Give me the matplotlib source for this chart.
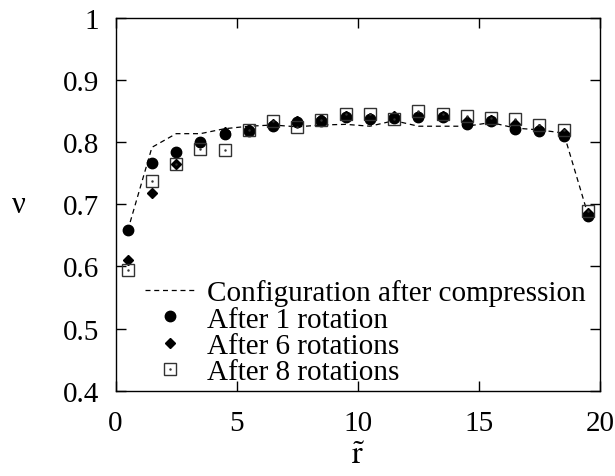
import numpy as np
import matplotlib.pyplot as plt
from matplotlib.lines import Line2D

plt.rcParams['font.family'] = ['Liberation Serif', 'DejaVu Serif']
plt.rcParams['mathtext.fontset'] = 'stix'

# radial bins
r = [0.5, 1.5, 2.5, 3.5, 4.5, 5.5, 6.5, 7.5, 8.5, 9.5,
     10.5, 11.5, 12.5, 13.5, 14.5, 15.5, 16.5, 17.5, 18.5, 19.5]

# packing fraction after compression
nu_compressed = [0.658, 0.792, 0.814, 0.814, 0.822, 0.826, 0.828, 0.825, 0.828, 0.829,
                 0.826, 0.835, 0.826, 0.826, 0.826, 0.832, 0.823, 0.820, 0.815, 0.684]
# after 1 rotation
nu_rot1 = [0.658, 0.766, 0.785, 0.800, 0.813, 0.819, 0.827, 0.832, 0.834, 0.841,
           0.838, 0.839, 0.841, 0.841, 0.829, 0.834, 0.822, 0.818, 0.811, 0.682]
# after 6 rotations
nu_rot6 = [0.611, 0.719, 0.765, 0.801, 0.816, 0.821, 0.829, 0.834, 0.837, 0.843,
           0.840, 0.842, 0.842, 0.842, 0.834, 0.836, 0.829, 0.821, 0.815, 0.686]
# after 8 rotations
nu_rot8 = [0.595, 0.738, 0.765, 0.790, 0.787, 0.820, 0.834, 0.825, 0.836, 0.845,
           0.846, 0.838, 0.850, 0.846, 0.843, 0.840, 0.837, 0.828, 0.820, 0.689]

fig = plt.figure(figsize=(6.15, 4.77), dpi=100)
ax = fig.add_axes([0.188, 0.179, 0.7876, 0.7807])

ax.plot(r, nu_compressed, color='black', lw=0.9, dashes=(4, 3))
ax.plot(r, nu_rot1, 'o', color='black', ms=7.5)
ax.plot(r, nu_rot6, 'D', color='black', ms=5)
ax.plot(r, nu_rot8, 's', mfc='none', mec='#333333', mew=1.0, ms=8)
ax.plot(r, nu_rot8, '.', color='#333333', ms=1.5)

ax.set_xlim(0, 20)
ax.set_ylim(0.4, 1.0)
ax.set_xticks([0, 5, 10, 15, 20])
ax.set_yticks([0.4, 0.5, 0.6, 0.7, 0.8, 0.9, 1.0])
ax.set_yticklabels(['0.4', '0.5', '0.6', '0.7', '0.8', '0.9', '1'])
ax.tick_params(direction='in', length=7, width=1, top=True, right=True,
               labelsize=21)
ax.tick_params(axis='y', pad=12)
ax.tick_params(axis='x', pad=14)
for s in ax.spines.values():
    s.set_linewidth(1)

ax.set_xlabel(r'$\tilde{\mathrm{r}}$', fontsize=23, va='center')
ax.xaxis.set_label_coords(0.5, -0.175)
ax.set_ylabel('ν', fontsize=22, rotation=0, va='center', ha='center')
ax.yaxis.set_label_coords(-0.2, 0.5)

handles = [
    Line2D([], [], color='black', lw=0.9, dashes=(4, 3)),
    Line2D([], [], ls='none', marker='o', color='black', ms=7.5),
    Line2D([], [], ls='none', marker='D', color='black', ms=5),
    (Line2D([], [], ls='none', marker='s', mfc='none', mec='#333333', ms=8),
     Line2D([], [], ls='none', marker='.', color='#333333', ms=1.5)),
]
labels = ['Configuration after compression', 'After 1 rotation',
          'After 6 rotations', 'After 8 rotations']
ax.legend(handles, labels, loc='lower left', bbox_to_anchor=(0.06, 0.014),
          frameon=False, fontsize=21, handlelength=1.75, handletextpad=0.4,
          labelspacing=0.0, borderaxespad=0.0, borderpad=0.0)

fig.savefig('out.png', dpi=100)
